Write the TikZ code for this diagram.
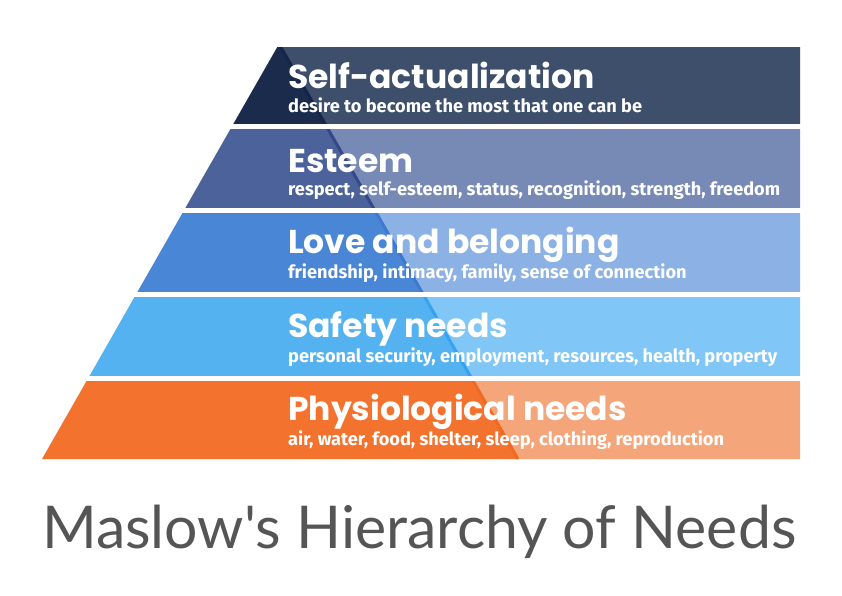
\documentclass[tikz,border=0pt]{standalone}
\usepackage{fontspec}
\newfontfamily\headf{Poppins}
\newfontfamily\subf{Fira Sans}
\newfontfamily\titlef{Lato}
\definecolor{dA}{HTML}{1B2B4B}\definecolor{lA}{HTML}{3D4F6B}\definecolor{sA}{HTML}{15254A}
\definecolor{dB}{HTML}{4B629B}\definecolor{lB}{HTML}{7789B5}\definecolor{sB}{HTML}{34488A}
\definecolor{dC}{HTML}{4A86D6}\definecolor{lC}{HTML}{8CB1E5}\definecolor{sC}{HTML}{3F78D0}
\definecolor{dD}{HTML}{55B2F1}\definecolor{lD}{HTML}{80C6F6}\definecolor{sD}{HTML}{36A2F0}
\definecolor{dE}{HTML}{F2722E}\definecolor{lE}{HTML}{F5A57A}\definecolor{sE}{HTML}{F06A22}
\definecolor{titlegray}{HTML}{555555}
\tikzset{
  head/.style={anchor=base west,inner sep=0pt,text=white,font=\headf\bfseries\fontsize{33}{35}\selectfont},
  sub/.style={anchor=base west,inner sep=0pt,text=white,font=\subf\bfseries\fontsize{18.2}{20}\selectfont},
  ttl/.style={anchor=base west,inner sep=0pt,text=titlegray,font=\titlef\fontsize{59}{62}\selectfont}
}
\newcommand{\band}[5]{% top, bottom, dark, light, strip
  \begin{scope}
    \clip (0,#1) rectangle (800,#2);
    \fill[#4] (279,44) -- (518,459) -- (800,459) -- (800,44) -- cycle;
    \fill[#3] (279,44) -- (42,459) -- (518,459) -- cycle;
    \draw[#5,line width=3pt] (279,44) -- (518,459);
  \end{scope}}
\begin{document}
\begin{tikzpicture}[x=1pt,y=-1pt]
\useasboundingbox (0,0) rectangle (842,595);
\fill[white] (0,0) rectangle (842,595);
\band{47}{123}{dA}{lA}{sA}
\band{129}{207}{dB}{lB}{sB}
\band{213}{291}{dC}{lC}{sC}
\band{297}{375}{dD}{lD}{sD}
\band{381}{459}{dE}{lE}{sE}
\node[head] (h1) at (288,88) {Self-actualization};
\node[sub]  (s1) at (288,112) {desire to become the most that one can be};
\node[head] (h2) at (288,172) {Esteem};
\node[sub]  (s2) at (288,195) {respect, self-esteem, status, recognition, strength, freedom};
\node[head] (h3) at (288,253) {Love and belonging};
\node[sub]  (s3) at (288,278) {friendship, intimacy, family, sense of connection};
\node[head] (h4) at (288,337) {Safety needs};
\node[sub]  (s4) at (288,362) {personal security, employment, resources, health, property};
\node[head] (h5) at (288,420) {Physiological needs};
\node[sub]  (s5) at (288,445) {air, water, food, shelter, sleep, clothing, reproduction};
\node[ttl] (t) at (42,548) {Maslow's Hierarchy of Needs};
\end{tikzpicture}
\end{document}
